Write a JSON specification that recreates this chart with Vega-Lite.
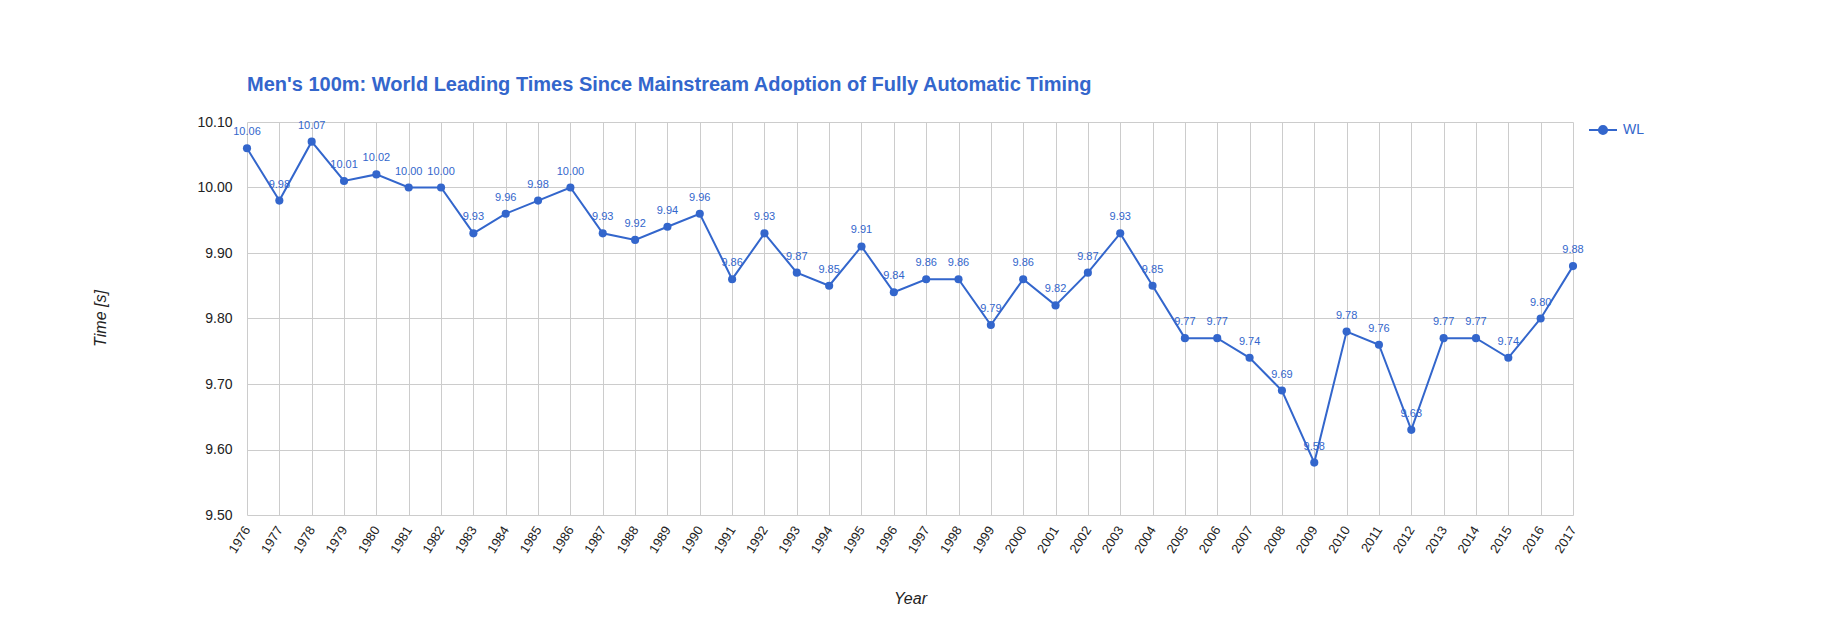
{
  "$schema": "https://vega.github.io/schema/vega-lite/v6.json",
  "width": 1326,
  "height": 393,
  "autosize": {"type": "none"},
  "padding": {"left": 247, "top": 122, "right": 248, "bottom": 122},
  "background": "white",
  "title": {
    "text": "Men's 100m: World Leading Times Since Mainstream Adoption of Fully Automatic Timing",
    "anchor": "start",
    "frame": "group",
    "font": "Liberation Sans",
    "fontSize": 20,
    "fontWeight": "bold",
    "color": "#3366cc",
    "offset": 20
  },
  "config": {
    "view": {"stroke": null},
    "font": "Liberation Sans"
  },
  "data": {
    "values": [
      {"year": 1976, "time": 10.06, "series": "WL"},
      {"year": 1977, "time": 9.98, "series": "WL"},
      {"year": 1978, "time": 10.07, "series": "WL"},
      {"year": 1979, "time": 10.01, "series": "WL"},
      {"year": 1980, "time": 10.02, "series": "WL"},
      {"year": 1981, "time": 10.00, "series": "WL"},
      {"year": 1982, "time": 10.00, "series": "WL"},
      {"year": 1983, "time": 9.93, "series": "WL"},
      {"year": 1984, "time": 9.96, "series": "WL"},
      {"year": 1985, "time": 9.98, "series": "WL"},
      {"year": 1986, "time": 10.00, "series": "WL"},
      {"year": 1987, "time": 9.93, "series": "WL"},
      {"year": 1988, "time": 9.92, "series": "WL"},
      {"year": 1989, "time": 9.94, "series": "WL"},
      {"year": 1990, "time": 9.96, "series": "WL"},
      {"year": 1991, "time": 9.86, "series": "WL"},
      {"year": 1992, "time": 9.93, "series": "WL"},
      {"year": 1993, "time": 9.87, "series": "WL"},
      {"year": 1994, "time": 9.85, "series": "WL"},
      {"year": 1995, "time": 9.91, "series": "WL"},
      {"year": 1996, "time": 9.84, "series": "WL"},
      {"year": 1997, "time": 9.86, "series": "WL"},
      {"year": 1998, "time": 9.86, "series": "WL"},
      {"year": 1999, "time": 9.79, "series": "WL"},
      {"year": 2000, "time": 9.86, "series": "WL"},
      {"year": 2001, "time": 9.82, "series": "WL"},
      {"year": 2002, "time": 9.87, "series": "WL"},
      {"year": 2003, "time": 9.93, "series": "WL"},
      {"year": 2004, "time": 9.85, "series": "WL"},
      {"year": 2005, "time": 9.77, "series": "WL"},
      {"year": 2006, "time": 9.77, "series": "WL"},
      {"year": 2007, "time": 9.74, "series": "WL"},
      {"year": 2008, "time": 9.69, "series": "WL"},
      {"year": 2009, "time": 9.58, "series": "WL"},
      {"year": 2010, "time": 9.78, "series": "WL"},
      {"year": 2011, "time": 9.76, "series": "WL"},
      {"year": 2012, "time": 9.63, "series": "WL"},
      {"year": 2013, "time": 9.77, "series": "WL"},
      {"year": 2014, "time": 9.77, "series": "WL"},
      {"year": 2015, "time": 9.74, "series": "WL"},
      {"year": 2016, "time": 9.80, "series": "WL"},
      {"year": 2017, "time": 9.88, "series": "WL"}
    ]
  },
  "encoding": {
    "x": {
      "field": "year",
      "type": "ordinal",
      "scale": {"type": "point", "padding": 0},
      "axis": {
        "title": "Year",
        "titleFont": "Liberation Sans",
        "titleFontSize": 16,
        "titleFontStyle": "italic",
        "titleFontWeight": "normal",
        "titleColor": "#222222",
        "titleX": 663,
        "titleY": 83,
        "titleBaseline": "middle",
        "labelAngle": -58,
        "labelAlign": "right",
        "labelBaseline": "middle",
        "labelFontSize": 13,
        "labelColor": "#222222",
        "labelPadding": 12,
        "ticks": false,
        "domain": false,
        "grid": true,
        "gridColor": "#cccccc",
        "gridWidth": 1
      }
    },
    "y": {
      "field": "time",
      "type": "quantitative",
      "scale": {"domain": [9.5, 10.1], "nice": false, "zero": false},
      "axis": {
        "title": "Time [s]",
        "titleFont": "Liberation Sans",
        "titleFontSize": 16,
        "titleFontStyle": "italic",
        "titleFontWeight": "normal",
        "titleColor": "#222222",
        "titleX": -147,
        "titleY": 196,
        "titleBaseline": "middle",
        "titleAlign": "center",
        "values": [9.5, 9.6, 9.7, 9.8, 9.9, 10.0, 10.1],
        "format": ".2f",
        "labelFontSize": 14,
        "labelColor": "#222222",
        "labelPadding": 15,
        "ticks": false,
        "domain": false,
        "grid": true,
        "gridColor": "#cccccc",
        "gridWidth": 1
      }
    }
  },
  "layer": [
    {
      "mark": {"type": "line", "strokeWidth": 2},
      "encoding": {
        "color": {
          "field": "series",
          "type": "nominal",
          "scale": {"range": ["#3366cc"]},
          "legend": {
            "title": null,
            "orient": "none",
            "legendX": 1341,
            "legendY": -7,
            "padding": 0,
            "symbolType": "M-1,0L1,0M0.29,0A0.29,0.29,0,1,1,-0.29,0A0.29,0.29,0,1,1,0.29,0Z",
            "symbolSize": 784,
            "symbolFillColor": "#3366cc",
            "symbolStrokeColor": "#3366cc",
            "symbolStrokeWidth": 2,
            "labelFont": "Liberation Sans",
            "labelFontSize": 14,
            "labelColor": "#3366cc",
            "labelOffset": 5
          }
        }
      }
    },
    {
      "mark": {"type": "point", "filled": true, "size": 66, "opacity": 1, "color": "#3366cc"}
    },
    {
      "mark": {"type": "text", "fontSize": 11, "color": "#3366cc", "dy": -13, "baseline": "alphabetic", "font": "Liberation Sans"},
      "encoding": {"text": {"field": "time", "type": "quantitative", "format": ".2f"}}
    }
  ]
}
